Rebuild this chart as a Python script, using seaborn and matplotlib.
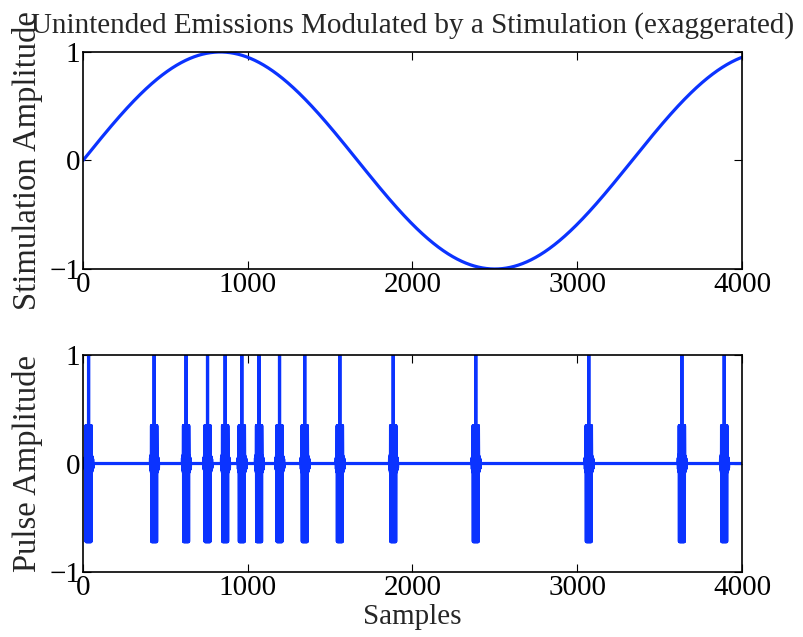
import numpy as np
import pandas as pd
import matplotlib
matplotlib.use("Agg")
import matplotlib.pyplot as plt
import seaborn as sns

# stimulation: one sine cycle every ~3333 samples
n_samples = 4000
stim_period = 3333

# sample index where each emitted pulse starts
pulse_onsets = [12, 410, 604, 734, 841, 942, 1047, 1171, 1324, 1537,
                1861, 2362, 3048, 3613, 3870]

# shape of one pulse: small lead-in, ringing
# between +0.35 and -0.72 with one full-height spike, small tail
pulse_lead = [0.05, -0.05, 0.06, -0.06, 0.08, -0.08]
pulse_ring_a = [0.35, -0.72] * 8
pulse_peak = [1.0]
pulse_ring_b = [-0.72, 0.35] * 8
pulse_tail = [0.08, -0.08, 0.07, -0.07, 0.06, -0.06, 0.05, -0.05, 0.04, -0.04, 0.0]
pulse_shape = pulse_lead + pulse_ring_a + pulse_peak + pulse_ring_b + pulse_tail

samples = np.arange(n_samples)
stim = np.sin(2 * np.pi * samples / stim_period)
pulses = np.zeros(n_samples)
for p in pulse_onsets:
    pulses[p:p + len(pulse_shape)] = pulse_shape[:n_samples - p]

df = pd.DataFrame({"sample": samples, "stim": stim, "pulse": pulses})

sns.set_style("ticks")
plt.rcParams["font.family"] = ["Liberation Serif", "DejaVu Serif"]
plt.rcParams["font.size"] = 21

blue = "#0b33ff"
fig = plt.figure(figsize=(8.04, 6.37), dpi=100)
ax1 = fig.add_axes([0.1032, 0.5777, 0.8197, 0.3407])
ax2 = fig.add_axes([0.1032, 0.1020, 0.8197, 0.3407])

sns.lineplot(data=df, x="sample", y="stim", ax=ax1, color=blue, lw=2.3)
sns.lineplot(data=df, x="sample", y="pulse", ax=ax2, color=blue, lw=2.3)

for ax in (ax1, ax2):
    ax.set_xlim(0, 4000)
    ax.set_ylim(-1, 1)
    ax.set_xticks([0, 1000, 2000, 3000, 4000])
    ax.set_yticks([-1, 0, 1])
    ax.tick_params(direction="in", length=6, width=0.8, top=True, right=True,
                   labelsize=21, pad=2, colors="black")
    for s in ax.spines.values():
        s.set_linewidth(1.2)
        s.set_color("black")
    ax.set_xlabel("")

ax1.set_ylabel("Stimulation Amplitude", fontsize=23.5)
ax2.set_ylabel("Pulse Amplitude", fontsize=23.5)
ax1.yaxis.set_label_coords(-0.06, 0.5)
ax2.yaxis.set_label_coords(-0.06, 0.5)
ax2.set_xlabel("Samples", fontsize=21, labelpad=2)
ax1.set_title("Unintended Emissions Modulated by a Stimulation (exaggerated)",
              fontsize=21, pad=14)

fig.savefig("out.png", dpi=100)
